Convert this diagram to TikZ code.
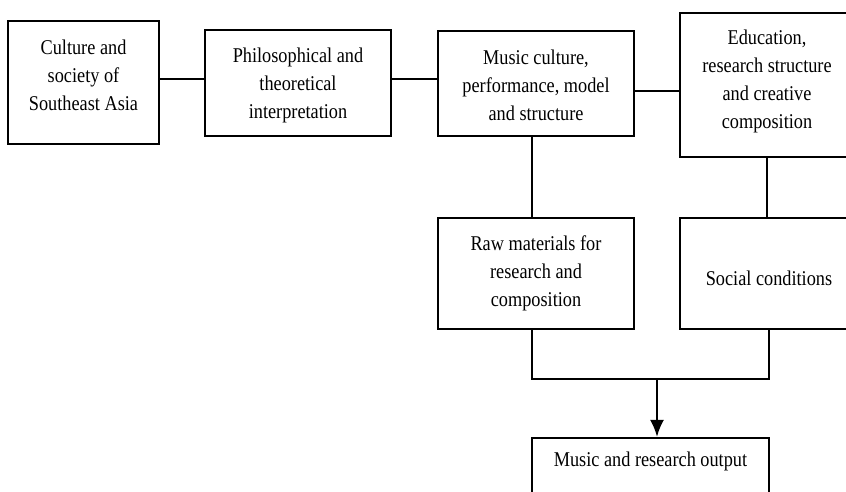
\documentclass[tikz,border=0pt]{standalone}
\usepackage{fontspec}
\setmainfont{Liberation Serif}[FakeStretch=0.87]
\usetikzlibrary{arrows.meta}
\begin{document}
\begin{tikzpicture}[x=1pt,y=-1pt,
  box/.style={draw=black,line width=2.2pt,rectangle,inner sep=0pt},
  txt/.style={align=center,font=\fontsize{21}{28}\selectfont,inner sep=0pt},
  conn/.style={draw=black,line width=2.2pt}]
\useasboundingbox (0,0) rectangle (846,492);
\clip (0,0) rectangle (846,492);
\fill[white] (0,0) rectangle (846,492);
% boxes
\node[box,minimum width=151pt,minimum height=123pt] (b1) at (83.5,82.5) {};
\node[box,minimum width=186pt,minimum height=106pt] (b2) at (298,83) {};
\node[box,minimum width=196pt,minimum height=105pt] (b3) at (536,83.5) {};
\node[box,minimum width=174pt,minimum height=144pt] (b4) at (767,85) {};
\node[box,minimum width=196pt,minimum height=111pt] (b5) at (536,273.5) {};
\node[box,minimum width=178pt,minimum height=111pt] (b6) at (769,273.5) {};
\node[box,minimum width=237pt,minimum height=80pt] (b7) at (650.5,478) {};
% texts
\node[txt] (t1) at (83.5,75) {Culture and\\society of\\Southeast Asia};
\node[txt] (t2) at (298,85) {Philosophical and\\theoretical\\interpretation};
\node[txt] (t3) at (536,85) {Music culture,\\performance, model\\and structure};
\node[txt] (t4) at (767,81) {Education,\\research structure\\and creative\\composition};
\node[txt] (t5) at (536,273) {Raw materials for\\research and\\composition};
\node[txt] (t6) at (769,278) {Social conditions};
\node[txt] (t7) at (650.5,461) {Music and research output};
% connectors
\draw[conn] (b1.east |- 0,79) -- (b2.west |- 0,79);
\draw[conn] (b2.east |- 0,79) -- (b3.west |- 0,79);
\draw[conn] (b3.east |- 0,91) -- (b4.west |- 0,91);
\draw[conn] ([xshift=-4pt]b3.south) -- ([xshift=-4pt]b5.north);
\draw[conn] (b4.south) -- (b4.south |- b6.north);
\coordinate (jl) at (532,379);
\coordinate (jr) at (769,379);
\coordinate (j) at (657,379);
\draw[conn] ([xshift=-4pt]b5.south) -- (jl) -- (jr) -- (b6.south);
\draw[conn,-{Latex[length=17pt,width=14pt]}] (j) -- (j |- b7.north);
\end{tikzpicture}
\end{document}
